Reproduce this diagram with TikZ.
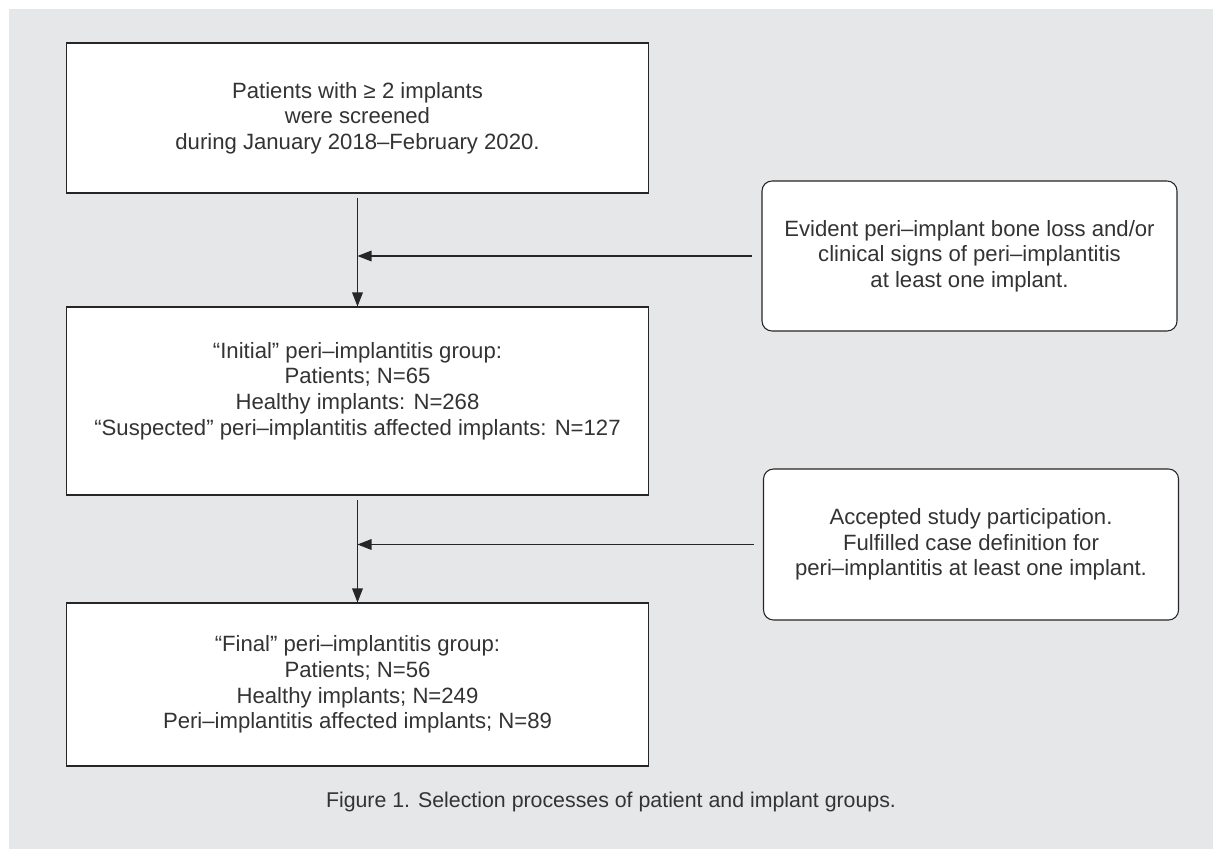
\documentclass[tikz,border=0pt]{standalone}
\usepackage{fontspec}
\setmainfont{Liberation Sans}
\usetikzlibrary{arrows.meta}
\usetikzlibrary{calc}
\definecolor{backgray}{HTML}{E6E7E8}
\definecolor{textgray}{HTML}{333333}
\tikzset{>={Triangle[length = 10.5pt, width = 8pt]}}
\tikzset{stagebox/.style = {draw = black!85, fill = white, line width = 0.8pt, minimum width = 436.5pt, align = center, text = textgray, inner sep = 0pt, font = \fontsize{16.6pt}{19.2pt}\selectfont}}
\tikzset{rulebox/.style = {stagebox, rounded corners = 7.5pt, minimum width = 311.25pt}}
\tikzset{flow/.style = {->, draw = black!85, line width = 0.8pt}}

\begin{document}
\begin{tikzpicture}[x = 0.75pt, y = -0.75pt, font = \fontsize{16pt}{19pt}\selectfont]

\useasboundingbox (0,0) rectangle (1213,849);
\fill[backgray] (9,9) rectangle (1213,849);

% groups
\node[stagebox, minimum height = 112.5pt] (screened) at (357.5,118) {Patients with ≥ 2 implants\\were screened\\during January 2018–February 2020.};
\node[stagebox, minimum height = 141pt, text depth = 18.5pt] (initial) at (357.5,401) {“Initial” peri–implantitis group:\\Patients; N=65\\Healthy implants: N=268\\“Suspected” peri–implantitis affected implants: N=127};
\node[stagebox, minimum height = 122.25pt] (final) at (357.5,684.5) {“Final” peri–implantitis group:\\Patients; N=56\\Healthy implants; N=249\\Peri–implantitis affected implants; N=89};

% criteria
\node[rulebox, minimum height = 112.5pt] (evident) at (969.5,256) {Evident peri–implant bone loss and/or\\clinical signs of peri–implantitis\\at least one implant.};
\node[rulebox, minimum height = 113.25pt] (accepted) at (971,544.5) {Accepted study participation.\\Fulfilled case definition for\\peri–implantitis at least one implant.};

\draw[flow] ([yshift = -3pt]screened.south) -- (initial.north);
\draw[flow] ([yshift = -3pt]initial.south) -- (final.north);
\draw[flow] ([xshift = -7pt]evident.west) -- (evident.west -| screened.south);
\draw[flow] ([xshift = -7pt]accepted.west) -- (accepted.west -| initial.south);

\node[text = textgray] (caption) at (611,802) {Figure 1. Selection processes of patient and implant groups.};

\end{tikzpicture}
\end{document}
